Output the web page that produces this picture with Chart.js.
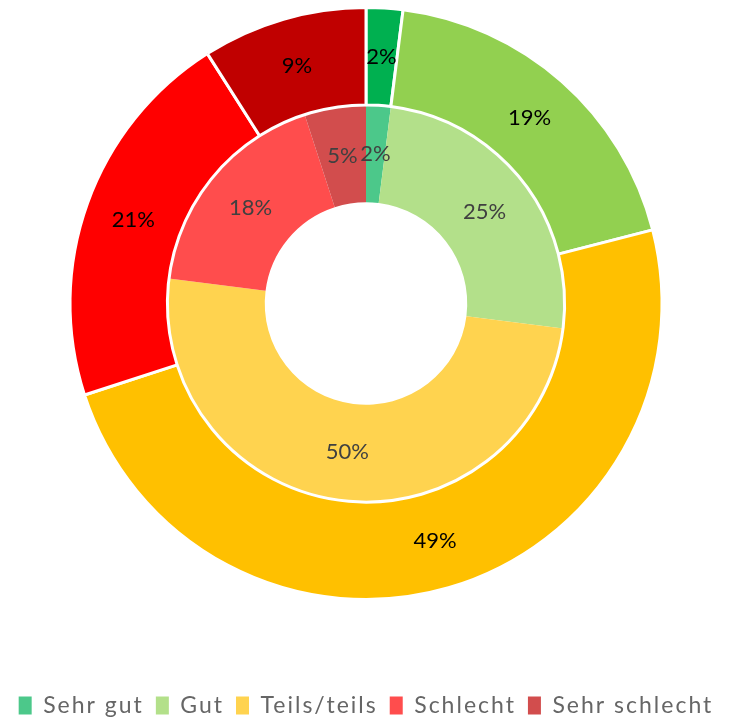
<!DOCTYPE html>
<html><head><meta charset="utf-8">
<script src="https://cdn.jsdelivr.net/npm/chart.js@4"></script>
<style>html,body{margin:0;padding:0;background:#fff}#wrap{width:748px;height:722px}</style>
</head><body><div id="wrap"><canvas id="c" width="748" height="722"></canvas></div>
<script>
const categories = ["Sehr gut", "Gut", "Teils/teils", "Schlecht", "Sehr schlecht"];
const outerValues = [2, 19, 49, 21, 9];
const innerValues = [2, 25, 50, 18, 5];
const outerColors = ["#00B050", "#92D050", "#FFC000", "#FF0000", "#C00000"];
const innerColors = ["#4CC88A", "#B3E08A", "#FFD34F", "#FF4D4D", "#D24D4D"];

const spacingPlugin = {
  id: 'legendSpacing',
  beforeInit(chart) { chart.ctx.letterSpacing = '2px'; },
  beforeLayout(chart) { chart.ctx.letterSpacing = '2px'; },
  beforeDraw(chart) { chart.ctx.letterSpacing = '2px'; }
};

const labelPlugin = {
  id: 'arcLabels',
  afterDatasetsDraw(chart) {
    const ctx = chart.ctx;
    ctx.save();
    ctx.letterSpacing = '0px';
    ctx.font = '22px Lato, "Open Sans", sans-serif';
    ctx.textAlign = 'center';
    ctx.textBaseline = 'middle';
    chart.data.datasets.forEach((ds, di) => {
      const meta = chart.getDatasetMeta(di);
      ctx.fillStyle = di === 0 ? '#000000' : '#404040';
      meta.data.forEach((arc, i) => {
        const p = arc.tooltipPosition();
        ctx.fillText(ds.data[i] + '%', p.x, p.y);
      });
    });
    ctx.restore();
  }
};

new Chart(document.getElementById('c'), {
  type: 'doughnut',
  data: {
    labels: categories,
    datasets: [
      { data: outerValues, backgroundColor: outerColors, borderColor: '#ffffff', borderWidth: 3 },
      { data: innerValues, backgroundColor: innerColors, borderColor: innerColors, borderWidth: 0 }
    ]
  },
  options: {
    responsive: false,
    animation: false,
    cutout: '34.2%',
    layout: { padding: { top: 6, left: 0, right: 16, bottom: -5 } },
    plugins: {
      tooltip: { enabled: false },
      legend: {
        position: 'bottom',
        title: { display: true, text: ' ', padding: { top: 69, bottom: 0 }, font: { size: 10 } },
        labels: {
          font: { size: 23, family: 'Lato, "Open Sans", sans-serif' },
          color: '#595959',
          boxWidth: 13,
          boxHeight: 18,
          padding: 12,
          generateLabels(chart) {
            return categories.map((c, i) => ({
              text: c, fillStyle: innerColors[i], strokeStyle: innerColors[i], lineWidth: 0, index: i, hidden: false
            }));
          }
        }
      }
    }
  },
  plugins: [spacingPlugin, labelPlugin]
});
</script></body></html>
